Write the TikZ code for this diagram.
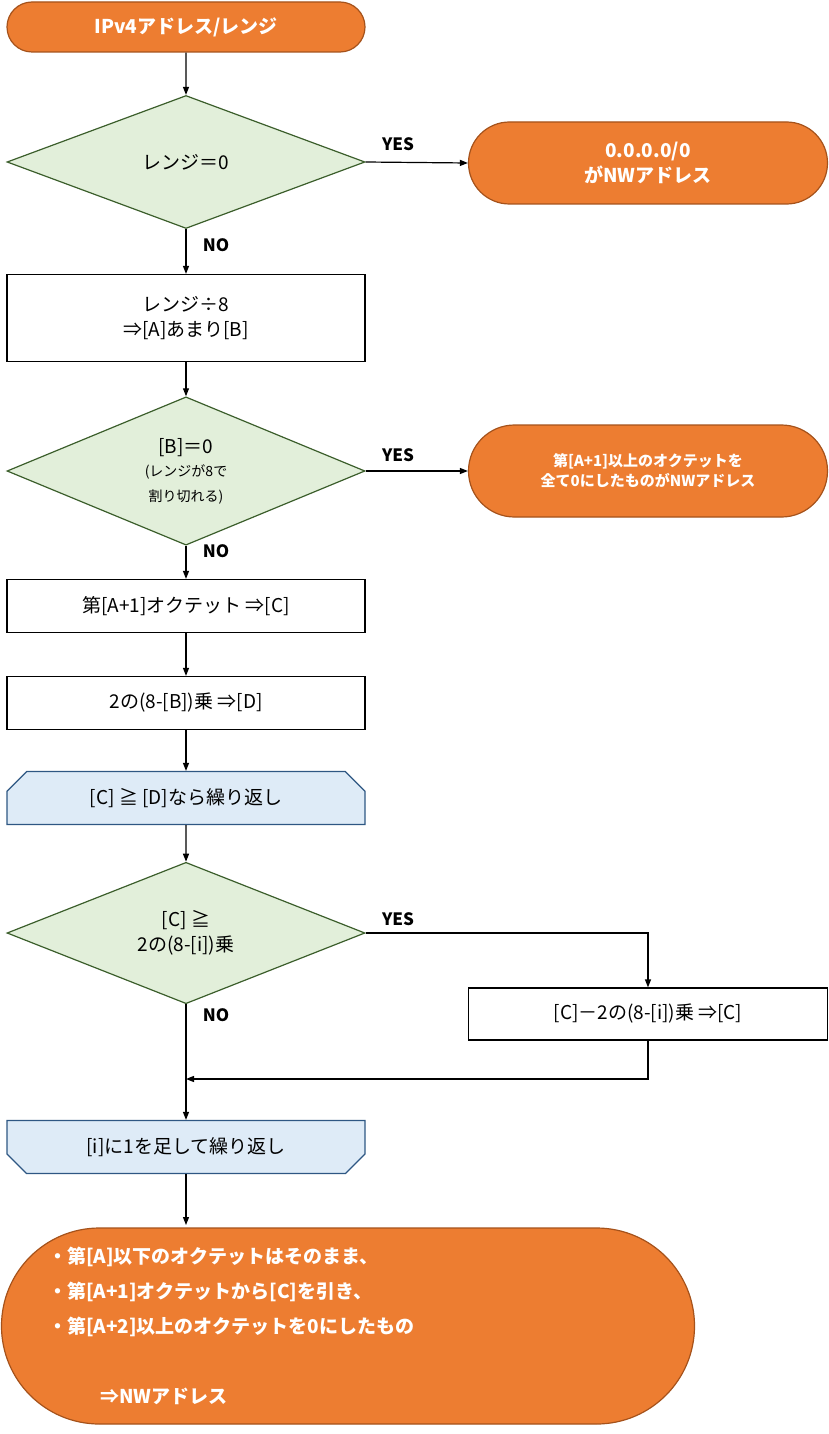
\documentclass[tikz,border=0pt]{standalone}
\usepackage{fontspec}
\setmainfont{Noto Sans CJK JP}
\usetikzlibrary{shapes.geometric,shapes.misc,arrows.meta}
\definecolor{org}{HTML}{ED7D31}
\definecolor{orgb}{HTML}{A5521B}
\definecolor{grn}{HTML}{E2EFDA}
\definecolor{grnb}{HTML}{3B5E2B}
\definecolor{blu}{HTML}{DEEBF7}
\definecolor{blub}{HTML}{2E5783}
\newcommand{\smallf}{\fontsize{14}{17}\selectfont}
\begin{document}
\begin{tikzpicture}[x=1pt,y=-1pt,
  base/.style={inner sep=0pt,align=center,font=\fontsize{19}{25}\selectfont,line width=1.2pt},
  term/.style={base,rounded rectangle,fill=org,draw=orgb,text=white,font=\fontsize{19}{25}\selectfont\bfseries},
  dec/.style={base,diamond,fill=grn,draw=grnb,minimum width=358pt,minimum height=133pt},
  proc/.style={base,rectangle,draw=black,fill=white,minimum width=358pt},
  loopA/.style={base,chamfered rectangle,chamfered rectangle corners={north west,north east},chamfered rectangle xsep=10pt,chamfered rectangle ysep=10pt,fill=blu,draw=blub,minimum width=358pt,minimum height=53pt},
  loopB/.style={loopA,chamfered rectangle corners={south west,south east}},
  arr/.style={-{Triangle[length=8pt,width=6pt]},line width=1.2pt},
  lab/.style={font=\fontsize{17}{20}\selectfont\bfseries,inner sep=0pt}]
\useasboundingbox (0,0) rectangle (829,1434);
\node[term,minimum width=358pt,minimum height=50pt] (s) at (186,27) {IPv4アドレス/レンジ};
\node[dec] (d1) at (186,162) {レンジ＝0};
\node[term,minimum width=359pt,minimum height=82pt] (t2) at (648,163) {0.0.0.0/0\\がNWアドレス};
\node[proc,minimum height=87pt] (r1) at (186,318) {レンジ÷8\\⇒[A]あまり[B]};
\node[dec] (d2) at (186,471) {[B]＝0\\[-2pt]\smallf (レンジが8で\\\smallf 割り切れる)};
\node[term,minimum width=359pt,minimum height=92pt,font=\fontsize{15}{20}\selectfont\bfseries] (t3) at (648,471) {第[A+1]以上のオクテットを\\全て0にしたものがNWアドレス};
\node[proc,minimum height=53pt] (r2) at (186,606) {第[A+1]オクテット ⇒[C]};
\node[proc,minimum height=53pt] (r3) at (186,703) {2の(8-[B])乗 ⇒[D]};
\node[loopA] (la) at (186,798) {[C] ≧ [D]なら繰り返し};
\node[dec] (d3) at (186,933) {[C] ≧\\2の(8-[i])乗};
\node[proc,minimum width=359pt,minimum height=52pt] (r4) at (648,1014) {[C]－2の(8-[i])乗 ⇒[C]};
\node[loopB] (lb) at (186,1147) {[i]に1を足して繰り返し};
\node[term,rounded rectangle arc length=180,minimum width=693pt,minimum height=196pt,align=left,text width=600pt,font=\fontsize{19}{35}\selectfont\bfseries] (f) at (348,1326) {・第[A]以下のオクテットはそのまま、\\・第[A+1]オクテットから[C]を引き、\\・第[A+2]以上のオクテットを0にしたもの\\[35pt]\hspace*{52pt}⇒NWアドレス};
\coordinate (j) at (186,1079);
\coordinate (fe) at (186,1225);
\draw[arr] (s) -- (d1);
\draw[arr] (d1.east) -- (t2.west);
\draw[arr] (d1.south) -- (r1);
\draw[arr] (r1) -- (d2.north);
\draw[arr] (d2.east) -- (t3.west);
\draw[arr] (d2.south) -- (r2);
\draw[arr] (r2) -- (r3);
\draw[arr] (r3) -- (la);
\draw[arr] (la) -- (d3.north);
\draw[arr] (d3.east) -| (r4.north);
\draw[arr] (r4.south) |- (j);
\draw[arr] (d3.south) -- (lb.north);
\draw[arr] (lb.south) -- (fe);
\node[lab] at (398,144) {YES};
\node[lab] at (216,245) {NO};
\node[lab] at (398,455) {YES};
\node[lab] at (216,551) {NO};
\node[lab] at (398,919) {YES};
\node[lab] at (216,1015) {NO};
\end{tikzpicture}
\end{document}
